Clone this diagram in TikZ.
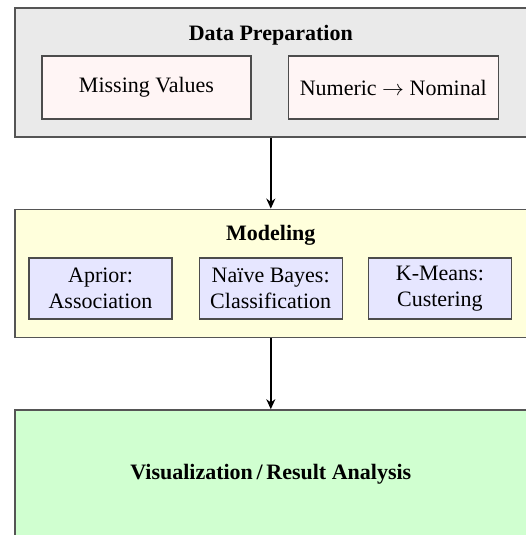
\documentclass[tikz,border=0pt]{standalone}
\usepackage{fontspec}
\setmainfont{Liberation Serif}
\usetikzlibrary{arrows.meta,positioning}
\definecolor{prepfill}{HTML}{EAEAEA}
\definecolor{stepfill}{HTML}{FFF5F5}
\definecolor{modelfill}{HTML}{FFFFDC}
\definecolor{algofill}{HTML}{E6E6FF}
\definecolor{resultfill}{HTML}{D0FFD0}
\definecolor{edge}{HTML}{555555}

\begin{document}
\begin{tikzpicture}[x=0.5pt, y=-0.5pt, font=\fontsize{11}{13}\selectfont,
  stage/.style={draw=edge, line width=0.8pt, minimum width=256pt, anchor=north west, inner sep=0pt},
  title/.style={font=\fontsize{11}{13}\selectfont\bfseries},
  task/.style={draw=edge!90!black, line width=0.6pt, align=center, inner sep=0pt},
  arr/.style={-{Stealth[length=5pt, width=4.5pt]}, line width=0.8pt},
]
\useasboundingbox (0,0) rectangle (525,535);

% Stage 1: data preparation
\node[stage, fill=prepfill, minimum height=64.5pt] (prep) at (14,7) {};
\node[title, below=5.5pt of prep.north] (prepT) {Data Preparation};
\node[task, fill=stepfill, minimum width=104.5pt, minimum height=31.5pt] (missing) at (146.5,87.5) {Missing Values};
\node[task, fill=stepfill, minimum width=105pt, minimum height=31.5pt, right=18pt of missing] (discret) {Numeric $\rightarrow$ Nominal};

% Stage 2: modeling
\node[stage, fill=modelfill, minimum height=64pt, below=35.5pt of prep.south west, anchor=north west] (model) {};
\node[title, below=5pt of model.north] (modelT) {Modeling};
\node[task, fill=algofill, minimum width=71.5pt, minimum height=30.5pt] (apriori) at (100.5,288.5) {Aprior:\\Association};
\node[task, fill=algofill, minimum width=71.5pt, minimum height=30.5pt, right=13pt of apriori] (bayes) {Na\"{\i}ve Bayes:\\Classification};
\node[task, fill=algofill, minimum width=71.5pt, minimum height=30.5pt, right=12.5pt of bayes] (kmeans) {K-Means:\\Custering};

% Stage 3: results
\node[stage, fill=resultfill, minimum height=64pt, below=35.5pt of model.south west, anchor=north west] (result) {};
\node[title] (resultT) at (result.center) {Visualization\,/\,Result Analysis};

\draw[arr] (prep) -- (model);
\draw[arr] (model) -- (result);

\end{tikzpicture}
\end{document}
